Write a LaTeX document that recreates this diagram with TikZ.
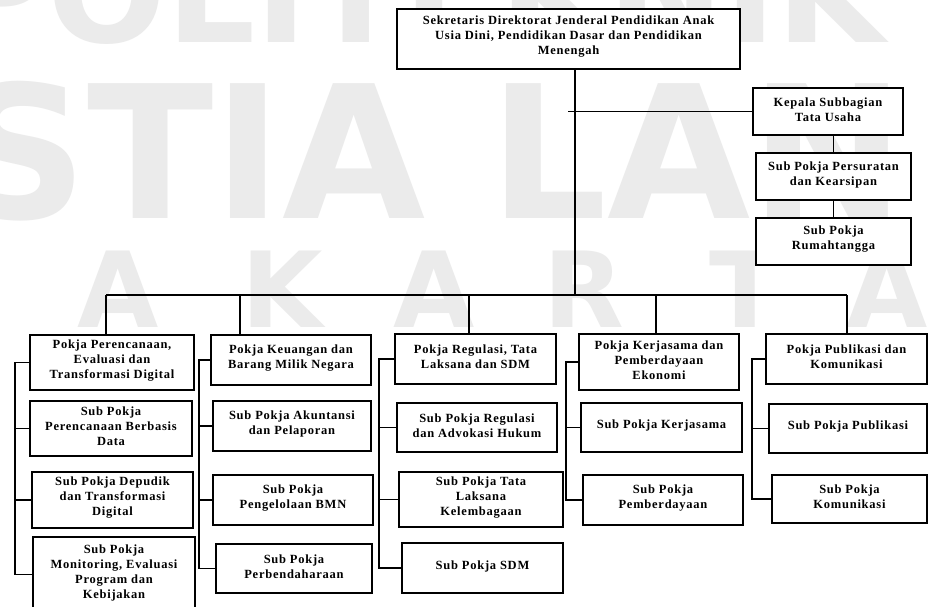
\documentclass[tikz,border=0pt]{standalone}
\usepackage{fontspec}
\setmainfont{Liberation Serif}
\newfontfamily\boxfont{Liberation Serif}[LetterSpace=6]
\newfontfamily\wmfont{DejaVu Sans}
\definecolor{wm}{RGB}{235,235,235}
\newcommand\orgbox[6]{\node[box, minimum width={(#4-#2)*1pt}, minimum height={(#5-#3)*1pt}, label={[txt]center:{#6}}] (#1) at ({(#2+#4)/2},{(#3+#5)/2}) {};}
\begin{document}
\begin{tikzpicture}[x=1pt,y=-1pt,
  box/.style={draw=black, line width=1.5pt, fill=white, inner sep=0pt, rectangle},
  txt/.style={align=center, font=\boxfont\bfseries\fontsize{12.5}{15}\selectfont, inner sep=0pt, yshift=2pt},
  conn/.style={line width=1.3pt},
  wmark/.style={text=wm, inner sep=0pt}]
\useasboundingbox (0,0) rectangle (929,606);
\fill[white] (0,0) rectangle (929,606);
% watermark
\node[wmark, font=\wmfont\bfseries\fontsize{140}{140}\selectfont, anchor=base west] (wma) at (-55,42) {POLITEKNIK};
\node[wmark, font=\wmfont\bfseries\fontsize{185}{185}\selectfont, anchor=base west] (wmb) at (-46,218) {STIA LAN};
\tikzset{wml/.style={wmark, font=\wmfont\bfseries\fontsize{105}{105}\selectfont, anchor=base}}
\node[wml] (wc1) at (118,327) {A};
\node[wml] (wc2) at (282,327) {K};
\node[wml] (wc3) at (434,327) {A};
\node[wml] (wc4) at (584,327) {R};
\node[wml] (wc5) at (745,327) {T};
\node[wml] (wc6) at (887,327) {A};
% boxes
\orgbox{top}{397}{9}{740}{69}{Sekretaris Direktorat Jenderal Pendidikan Anak\\Usia Dini, Pendidikan Dasar dan Pendidikan\\Menengah}
\orgbox{kep}{753}{88}{903}{135}{Kepala Subbagian\\Tata Usaha}
\orgbox{pers}{756}{153}{911}{200}{Sub Pokja Persuratan\\dan Kearsipan}
\orgbox{rum}{756}{218}{911}{265}{Sub Pokja\\Rumahtangga}
\orgbox{c1a}{30}{335}{194}{390}{Pokja Perencanaan,\\Evaluasi dan\\Transformasi Digital}
\orgbox{c1b}{30}{401}{192}{456}{Sub Pokja\\Perencanaan Berbasis\\Data}
\orgbox{c1c}{32}{472}{193}{528}{Sub Pokja Depudik\\dan Transformasi\\Digital}
\orgbox{c1d}{33}{537}{195}{612}{Sub Pokja\\Monitoring, Evaluasi\\Program dan\\Kebijakan}
\orgbox{c2a}{211}{335}{371}{385}{Pokja Keuangan dan\\Barang Milik Negara}
\orgbox{c2b}{213}{401}{371}{451}{Sub Pokja Akuntansi\\dan Pelaporan}
\orgbox{c2c}{213}{475}{373}{525}{Sub Pokja\\Pengelolaan BMN}
\orgbox{c2d}{216}{544}{372}{593}{Sub Pokja\\Perbendaharaan}
\orgbox{c3a}{395}{334}{556}{384}{Pokja Regulasi, Tata\\Laksana dan SDM}
\orgbox{c3b}{397}{403}{557}{452}{Sub Pokja Regulasi\\dan Advokasi Hukum}
\orgbox{c3c}{399}{472}{563}{527}{Sub Pokja Tata\\Laksana\\Kelembagaan}
\orgbox{c3d}{402}{543}{563}{593}{Sub Pokja SDM}
\orgbox{c4a}{579}{334}{739}{390}{Pokja Kerjasama dan\\Pemberdayaan\\Ekonomi}
\orgbox{c4b}{581}{403}{742}{452}{Sub Pokja Kerjasama}
\orgbox{c4c}{583}{475}{743}{525}{Sub Pokja\\Pemberdayaan}
\orgbox{c5a}{766}{334}{927}{384}{Pokja Publikasi dan\\Komunikasi}
\orgbox{c5b}{769}{404}{927}{453}{Sub Pokja Publikasi}
\orgbox{c5c}{772}{475}{927}{523}{Sub Pokja\\Komunikasi}
% connector coordinates
\coordinate (trunk) at (575,295);
\coordinate (kj) at (568,0);
\coordinate (d1) at (106,295);
\coordinate (d2) at (240,295);
\coordinate (d3) at (469,295);
\coordinate (d4) at (656,295);
\coordinate (d5) at (847,295);
\coordinate (s1) at (15,0);
\coordinate (s2) at (199,0);
\coordinate (s3) at (379,0);
\coordinate (s4) at (566,0);
\coordinate (s5) at (752,0);
% connectors
\draw[conn] (top.south -| trunk) -- (trunk);
\draw[conn] (kep.west) -- (kep.west -| kj);
\draw[conn] (kep.south -| pers.north) -- (pers.north);
\draw[conn] (pers.south -| rum.north) -- (rum.north);
\draw[conn] (d1) -- (d5);
\draw[conn] (d1) -- (c1a.north -| d1);
\draw[conn] (d2) -- (c2a.north -| d2);
\draw[conn] (d3) -- (c3a.north -| d3);
\draw[conn] (d4) -- (c4a.north -| d4);
\draw[conn] (d5) -- (c5a.north -| d5);
\draw[conn] (c1a.west) -- (c1a.west -| s1) -- (c1d.west -| s1) -- (c1d.west);
\draw[conn] (c1b.west -| s1) -- (c1b.west);
\draw[conn] (c1c.west -| s1) -- (c1c.west);
\draw[conn] (c2a.west) -- (c2a.west -| s2) -- (c2d.west -| s2) -- (c2d.west);
\draw[conn] (c2b.west -| s2) -- (c2b.west);
\draw[conn] (c2c.west -| s2) -- (c2c.west);
\draw[conn] (c3a.west) -- (c3a.west -| s3) -- (c3d.west -| s3) -- (c3d.west);
\draw[conn] (c3b.west -| s3) -- (c3b.west);
\draw[conn] (c3c.west -| s3) -- (c3c.west);
\draw[conn] (c4a.west) -- (c4a.west -| s4) -- (c4c.west -| s4) -- (c4c.west);
\draw[conn] (c4b.west -| s4) -- (c4b.west);
\draw[conn] (c5a.west) -- (c5a.west -| s5) -- (c5c.west -| s5) -- (c5c.west);
\draw[conn] (c5b.west -| s5) -- (c5b.west);
\end{tikzpicture}
\end{document}
